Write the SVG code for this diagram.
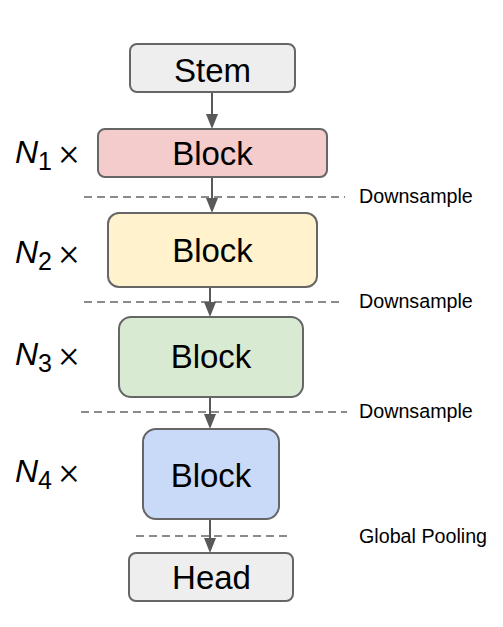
<svg xmlns="http://www.w3.org/2000/svg" width="503" height="627" viewBox="0 0 503 627">
<style>
.box{stroke:#666666;stroke-width:2}
.lbl{font-family:"Liberation Sans",Arial,sans-serif;font-size:33px;fill:#000;text-anchor:middle}
.ds{font-family:"Liberation Sans",Arial,sans-serif;font-size:19.7px;fill:#000}
.dash{stroke:#666666;stroke-width:1.5;stroke-dasharray:8 5;fill:none}
.n{font-family:"Liberation Sans",Arial,sans-serif;fill:#000}
.x{font-family:Roboto,"Liberation Sans",sans-serif;font-weight:300;font-size:38px}
</style>
<rect width="503" height="627" fill="#ffffff"/>
<g id="connectors">
<line class="dash" x1="84" y1="197" x2="345" y2="197"/>
<line class="dash" x1="84" y1="302" x2="343" y2="302"/>
<line class="dash" x1="81" y1="412" x2="347" y2="412"/>
<line class="dash" x1="136" y1="536" x2="287" y2="536"/>
<g fill="#595959" stroke="#595959" stroke-width="2">
<line x1="212" y1="92" x2="212" y2="116"/><path d="M206,114 L218,114 L212,129 Z" stroke="none"/>
<line x1="212" y1="177" x2="212" y2="200"/><path d="M206,198 L218,198 L212,213 Z" stroke="none"/>
<line x1="210" y1="287" x2="210" y2="304"/><path d="M204,302 L216,302 L210,317 Z" stroke="none"/>
<line x1="210" y1="397" x2="210" y2="416"/><path d="M204,414 L216,414 L210,429 Z" stroke="none"/>
<line x1="210" y1="519" x2="210" y2="540"/><path d="M204,538 L216,538 L210,553 Z" stroke="none"/>
</g>
</g>
<g id="stem"><rect class="box" x="130" y="44" width="165" height="48" rx="7" fill="#eeeeee"/><text class="lbl" x="212.5" y="82">Stem</text></g>
<g id="block1"><rect class="box" x="98" y="129" width="229" height="48" rx="7" fill="#f4cccc"/><text class="lbl" x="212.5" y="165">Block</text></g>
<g id="block2"><rect class="box" x="108" y="213" width="209" height="74" rx="11" fill="#fff2cc"/><text class="lbl" x="212.5" y="262">Block</text></g>
<g id="block3"><rect class="box" x="119" y="317" width="184" height="80" rx="12" fill="#d9ead3"/><text class="lbl" x="211" y="368">Block</text></g>
<g id="block4"><rect class="box" x="143" y="429" width="136" height="90" rx="13" fill="#c9daf8"/><text class="lbl" x="211" y="487">Block</text></g>
<g id="head"><rect class="box" x="129" y="553" width="164" height="48" rx="7" fill="#eeeeee"/><text class="lbl" x="211.5" y="589">Head</text></g>
<g id="labels">
<text class="ds" x="359" y="203">Downsample</text>
<text class="ds" x="359" y="308">Downsample</text>
<text class="ds" x="359" y="418">Downsample</text>
<text class="ds" x="359" y="543">Global Pooling</text>
</g>
<g id="n1"><text class="n" x="15" y="163"><tspan font-style="italic" font-size="32">N</tspan><tspan font-size="25" dy="7">1</tspan><tspan class="x" dy="-5" dx="7">×</tspan></text></g>
<g id="n2"><text class="n" x="15" y="263"><tspan font-style="italic" font-size="32">N</tspan><tspan font-size="25" dy="7">2</tspan><tspan class="x" dy="-5" dx="7">×</tspan></text></g>
<g id="n3"><text class="n" x="15" y="365"><tspan font-style="italic" font-size="32">N</tspan><tspan font-size="25" dy="7">3</tspan><tspan class="x" dy="-5" dx="7">×</tspan></text></g>
<g id="n4"><text class="n" x="15" y="482"><tspan font-style="italic" font-size="32">N</tspan><tspan font-size="25" dy="7">4</tspan><tspan class="x" dy="-5" dx="7">×</tspan></text></g>
</svg>
